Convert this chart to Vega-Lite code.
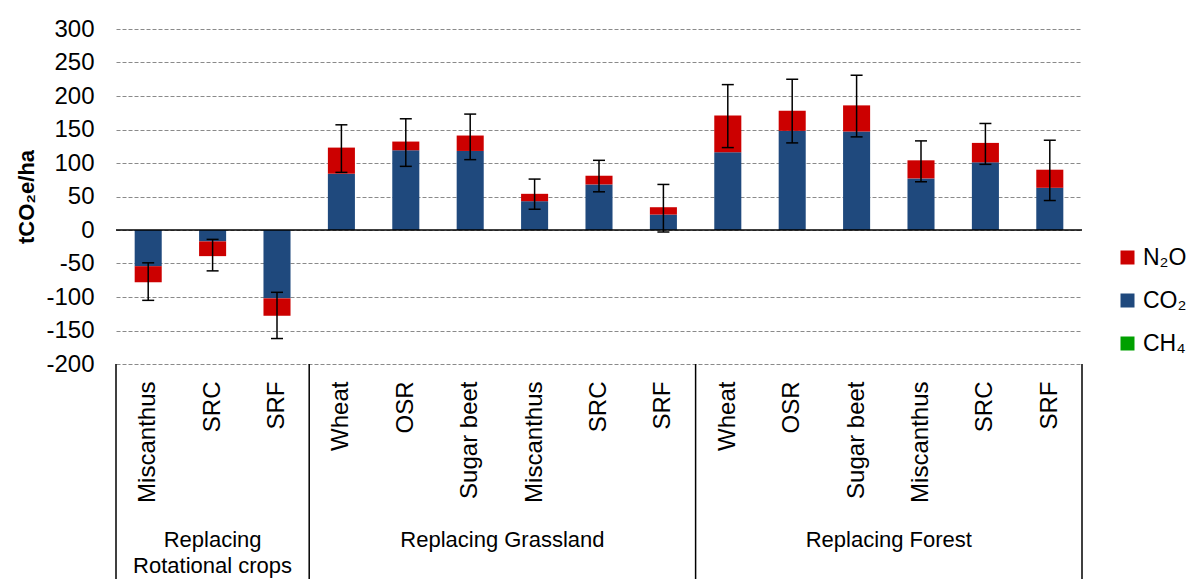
{
  "$schema": "https://vega.github.io/schema/vega-lite/v6.json",
  "autosize": {"type": "none"},
  "padding": {"left": 116, "top": 29, "right": 106, "bottom": 215},
  "width": 966,
  "height": 335,
  "background": "white",
  "config": {
    "view": {"stroke": null},
    "font": "Liberation Sans",
    "axis": {"labelOverlap": false},
    "axisY": {"labelOverlap": false, "tickCount": 11}
  },
  "datasets": {
    "gas": [
      {"id": "1|Miscanthus", "gas": "CO₂", "value": -54},
      {"id": "1|Miscanthus", "gas": "N₂O", "value": -24},
      {"id": "1|SRC", "gas": "CO₂", "value": -17},
      {"id": "1|SRC", "gas": "N₂O", "value": -22},
      {"id": "1|SRF", "gas": "CO₂", "value": -102},
      {"id": "1|SRF", "gas": "N₂O", "value": -26},
      {"id": "2|Wheat", "gas": "CO₂", "value": 84},
      {"id": "2|Wheat", "gas": "N₂O", "value": 39},
      {"id": "2|OSR", "gas": "CO₂", "value": 119},
      {"id": "2|OSR", "gas": "N₂O", "value": 13},
      {"id": "2|Sugar beet", "gas": "CO₂", "value": 118},
      {"id": "2|Sugar beet", "gas": "N₂O", "value": 23},
      {"id": "2|Miscanthus", "gas": "CO₂", "value": 43},
      {"id": "2|Miscanthus", "gas": "N₂O", "value": 11},
      {"id": "2|SRC", "gas": "CO₂", "value": 68},
      {"id": "2|SRC", "gas": "N₂O", "value": 13},
      {"id": "2|SRF", "gas": "CO₂", "value": 23},
      {"id": "2|SRF", "gas": "N₂O", "value": 11},
      {"id": "3|Wheat", "gas": "CO₂", "value": 116},
      {"id": "3|Wheat", "gas": "N₂O", "value": 55},
      {"id": "3|OSR", "gas": "CO₂", "value": 148},
      {"id": "3|OSR", "gas": "N₂O", "value": 30},
      {"id": "3|Sugar beet", "gas": "CO₂", "value": 147},
      {"id": "3|Sugar beet", "gas": "N₂O", "value": 39},
      {"id": "3|Miscanthus", "gas": "CO₂", "value": 77},
      {"id": "3|Miscanthus", "gas": "N₂O", "value": 27},
      {"id": "3|SRC", "gas": "CO₂", "value": 101},
      {"id": "3|SRC", "gas": "N₂O", "value": 29},
      {"id": "3|SRF", "gas": "CO₂", "value": 63},
      {"id": "3|SRF", "gas": "N₂O", "value": 27}
    ],
    "err": [
      {"id": "1|Miscanthus", "low": -105, "high": -49},
      {"id": "1|SRC", "low": -61, "high": -14},
      {"id": "1|SRF", "low": -162, "high": -93},
      {"id": "2|Wheat", "low": 86, "high": 157},
      {"id": "2|OSR", "low": 95, "high": 166},
      {"id": "2|Sugar beet", "low": 105, "high": 173},
      {"id": "2|Miscanthus", "low": 31, "high": 76},
      {"id": "2|SRC", "low": 57, "high": 104},
      {"id": "2|SRF", "low": -3, "high": 68},
      {"id": "3|Wheat", "low": 123, "high": 217},
      {"id": "3|OSR", "low": 130, "high": 225},
      {"id": "3|Sugar beet", "low": 139, "high": 231},
      {"id": "3|Miscanthus", "low": 72, "high": 133},
      {"id": "3|SRC", "low": 98, "high": 159},
      {"id": "3|SRF", "low": 44, "high": 134}
    ],
    "groupStart": [
      {"id": "1|Miscanthus"},
      {"id": "2|Wheat"},
      {"id": "3|Wheat"}
    ],
    "groupEnd": [
      {"id": "3|SRF"}
    ],
    "groupMid1": [
      {"id": "1|SRC", "label": "Replacing\nRotational crops"}
    ],
    "groupMid2": [
      {"id": "2|Sugar beet", "label": "Replacing Grassland"},
      {"id": "3|Sugar beet", "label": "Replacing Forest"}
    ]
  },
  "layer": [
    {
      "data": {"name": "gas"},
      "mark": {"type": "bar", "width": {"band": 0.42}},
      "encoding": {
        "x": {
          "field": "id",
          "type": "nominal",
          "scale": {
            "domain": ["1|Miscanthus", "1|SRC", "1|SRF", "2|Wheat", "2|OSR", "2|Sugar beet", "2|Miscanthus", "2|SRC", "2|SRF", "3|Wheat", "3|OSR", "3|Sugar beet", "3|Miscanthus", "3|SRC", "3|SRF"],
            "paddingInner": 0,
            "paddingOuter": 0
          },
          "axis": {
            "title": null,
            "labelExpr": "split(datum.value, '|')[1]",
            "labelAngle": -90,
            "labelFontSize": 24,
            "labelColor": "black",
            "labelPadding": 17,
            "labelOverlap": false,
            "ticks": false,
            "domain": false,
            "grid": false
          }
        },
        "y": {
          "field": "value",
          "type": "quantitative",
          "stack": "zero",
          "scale": {"domain": [-200, 300], "nice": false, "zero": false},
          "axis": {
            "title": "tCO₂e/ha",
            "titleFontSize": 22,
            "titleFontWeight": "bold",
            "titleColor": "black",
            "titleX": -78,
            "values": [-200, -150, -100, -50, 0, 50, 100, 150, 200, 250, 300],
            "labelExpr": "'' + datum.value",
            "labelOverlap": false,
            "labelSeparation": 0,
            "labelFontSize": 24,
            "labelColor": "black",
            "labelPadding": 22,
            "ticks": false,
            "domain": false,
            "grid": true,
            "gridColor": "#8a8a8a",
            "gridDash": [4, 2],
            "gridWidth": 1
          }
        },
        "color": {
          "field": "gas",
          "type": "nominal",
          "scale": {
            "domain": ["N₂O", "CO₂", "CH₄"],
            "range": ["#CC0000", "#1F497D", "#00A000"]
          },
          "legend": {
            "title": null,
            "orient": "none",
            "legendX": 1000,
            "legendY": 217,
            "symbolType": "square",
            "symbolSize": 196,
            "symbolStrokeWidth": 0,
            "labelFontSize": 23,
            "labelColor": "black",
            "labelOffset": 4,
            "rowPadding": 19
          }
        },
        "order": {"field": "gas", "sort": "ascending"}
      }
    },
    {
      "data": {"values": [{}]},
      "mark": {"type": "rule", "color": "black", "strokeWidth": 1.5},
      "encoding": {"y": {"datum": 0}}
    },
    {
      "data": {"name": "err"},
      "mark": {"type": "rule", "color": "black", "strokeWidth": 1.5},
      "encoding": {
        "x": {"field": "id", "type": "nominal"},
        "y": {"field": "low", "type": "quantitative"},
        "y2": {"field": "high"}
      }
    },
    {
      "data": {"name": "err"},
      "mark": {"type": "tick", "color": "black", "size": 12, "thickness": 1.5, "opacity": 1},
      "encoding": {
        "x": {"field": "id", "type": "nominal"},
        "y": {"field": "low", "type": "quantitative"}
      }
    },
    {
      "data": {"name": "err"},
      "mark": {"type": "tick", "color": "black", "size": 12, "thickness": 1.5, "opacity": 1},
      "encoding": {
        "x": {"field": "id", "type": "nominal"},
        "y": {"field": "high", "type": "quantitative"}
      }
    },
    {
      "data": {"name": "groupStart"},
      "mark": {"type": "rule", "color": "black", "strokeWidth": 1.5},
      "encoding": {
        "x": {"field": "id", "type": "nominal", "bandPosition": 0},
        "y": {"datum": -200},
        "y2": {"datum": -521}
      }
    },
    {
      "data": {"name": "groupEnd"},
      "mark": {"type": "rule", "color": "black", "strokeWidth": 1.5},
      "encoding": {
        "x": {"field": "id", "type": "nominal", "bandPosition": 1},
        "y": {"datum": -200},
        "y2": {"datum": -521}
      }
    },
    {
      "data": {"name": "groupMid1"},
      "mark": {"type": "text", "fontSize": 22, "baseline": "top", "align": "center", "lineBreak": "\n", "lineHeight": 26, "color": "black"},
      "encoding": {
        "x": {"field": "id", "type": "nominal", "bandPosition": 0.5},
        "y": {"datum": -448},
        "text": {"field": "label"}
      }
    },
    {
      "data": {"name": "groupMid2"},
      "mark": {"type": "text", "fontSize": 22, "baseline": "top", "align": "center", "color": "black"},
      "encoding": {
        "x": {"field": "id", "type": "nominal", "bandPosition": 1},
        "y": {"datum": -448},
        "text": {"field": "label"}
      }
    }
  ]
}
